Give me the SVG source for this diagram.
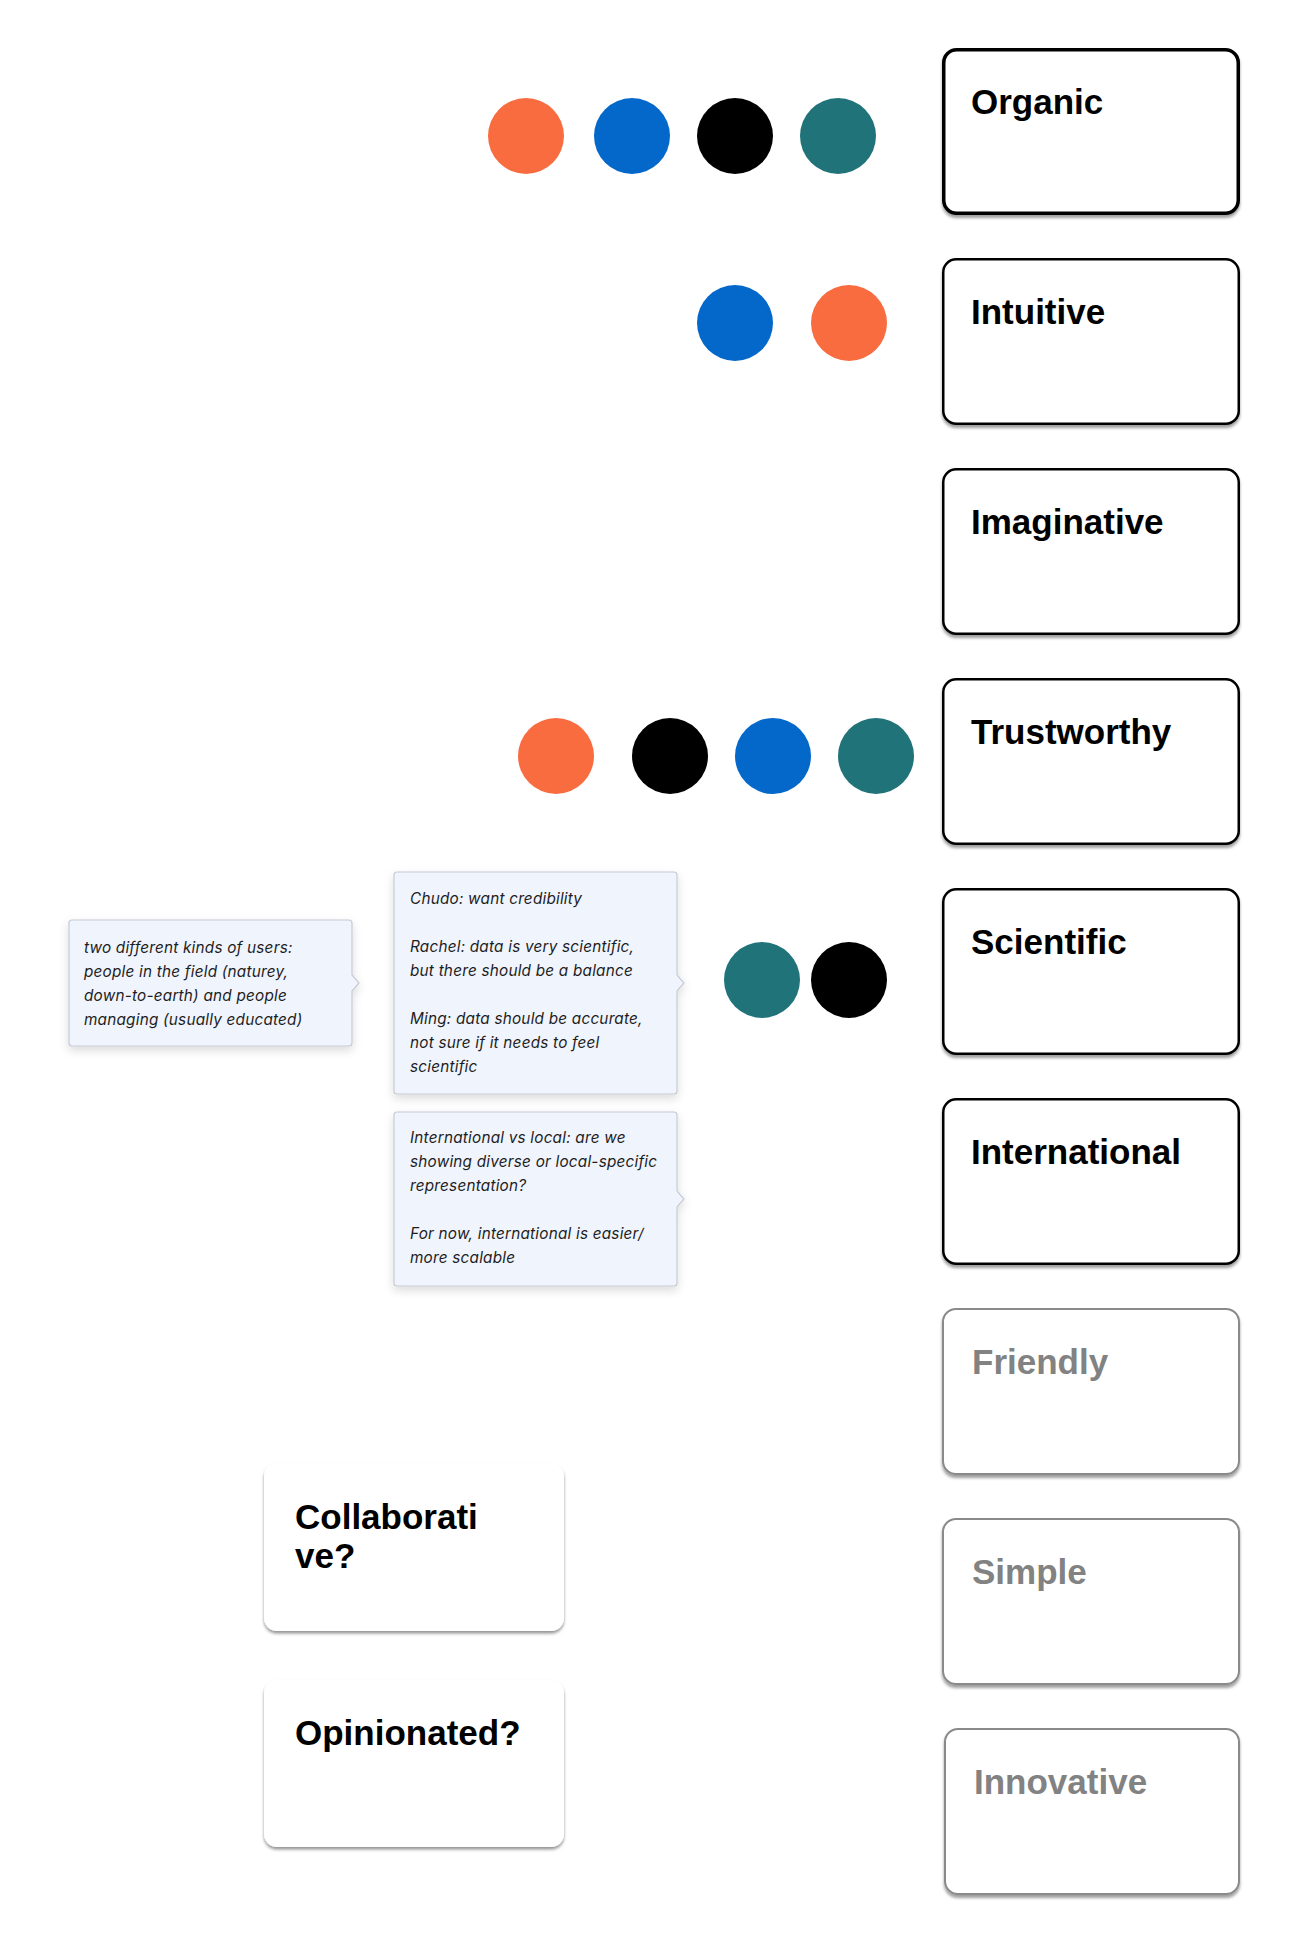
<svg xmlns="http://www.w3.org/2000/svg" width="1315" height="1947" viewBox="0 0 1315 1947">
<defs>
<filter id="cardShadow" x="-10%" y="-10%" width="120%" height="130%">
<feDropShadow dx="0" dy="3" stdDeviation="1.6" flood-color="#000" flood-opacity="0.38"/>
</filter>
<filter id="plainShadow" x="-10%" y="-10%" width="120%" height="130%">
<feDropShadow dx="0" dy="2.5" stdDeviation="1.8" flood-color="#000" flood-opacity="0.42"/>
</filter>
<filter id="noteShadow" x="-15%" y="-15%" width="130%" height="140%">
<feDropShadow dx="0" dy="4" stdDeviation="5" flood-color="#000" flood-opacity="0.14"/>
</filter>
<style>
.card{fill:#fff;filter:url(#cardShadow)}
.c-strong{stroke:#000;stroke-width:3.5}
.c-dark{stroke:#000;stroke-width:2.5}
.c-gray{stroke:#8a8a8a;stroke-width:2}
.plain{fill:#fff;filter:url(#plainShadow)}
.lbl{font-family:"Liberation Sans",Arial,Helvetica,sans-serif;font-weight:bold;font-size:35px;fill:#000}
.lbl-gray{fill:#828282}
.note{fill:#F0F4FD;stroke:#C6CAD4;stroke-width:1.2;filter:url(#noteShadow)}
.ntx{font-family:Inter,"Noto Sans",sans-serif;font-style:italic;font-size:15.3px;letter-spacing:0.22px;fill:#1e1e1e}
.orange{fill:#F96C40}
.blue{fill:#0368C9}
.black{fill:#000}
.teal{fill:#207378}
</style>
</defs>
<rect x="0" y="0" width="1315" height="1947" fill="#fff"/>

<g id="connectors"/>

<g id="node-organic">
<rect class="card c-strong" x="943.75" y="49.75" width="294.5" height="163.5" rx="13"/>
<text class="lbl" x="971" y="113.5">Organic</text>
</g>
<g id="node-intuitive">
<rect class="card c-dark" x="943.25" y="259.25" width="295.5" height="164.5" rx="13"/>
<text class="lbl" x="971" y="323.5">Intuitive</text>
</g>
<g id="node-imaginative">
<rect class="card c-dark" x="943.25" y="469.25" width="295.5" height="164.5" rx="13"/>
<text class="lbl" x="971" y="533.5">Imaginative</text>
</g>
<g id="node-trustworthy">
<rect class="card c-dark" x="943.25" y="679.25" width="295.5" height="164.5" rx="13"/>
<text class="lbl" x="971" y="743.5">Trustworthy</text>
</g>
<g id="node-scientific">
<rect class="card c-dark" x="943.25" y="889.25" width="295.5" height="164.5" rx="13"/>
<text class="lbl" x="971" y="953.5">Scientific</text>
</g>
<g id="node-international">
<rect class="card c-dark" x="943.25" y="1099.25" width="295.5" height="164.5" rx="13"/>
<text class="lbl" x="971" y="1163.5">International</text>
</g>
<g id="node-friendly">
<rect class="card c-gray" x="943" y="1309" width="296" height="165" rx="13"/>
<text class="lbl lbl-gray" x="972" y="1373.5">Friendly</text>
</g>
<g id="node-simple">
<rect class="card c-gray" x="943" y="1519" width="296" height="165" rx="13"/>
<text class="lbl lbl-gray" x="972" y="1583.5">Simple</text>
</g>
<g id="node-innovative">
<rect class="card c-gray" x="945" y="1729" width="294" height="165" rx="13"/>
<text class="lbl lbl-gray" x="974" y="1793.5">Innovative</text>
</g>

<g id="node-collaborative">
<rect class="plain" x="264" y="1463" width="300" height="168" rx="13"/>
<text class="lbl" x="295" y="1529">Collaborati</text>
<text class="lbl" x="295" y="1568">ve?</text>
</g>
<g id="node-opinionated">
<rect class="plain" x="264" y="1680" width="300" height="167" rx="13"/>
<text class="lbl" x="295" y="1745">Opinionated?</text>
</g>

<g id="note-users">
<path class="note" d="M72,920 H349 A3,3 0 0 1 352,923 V975 L359,983 L352,991 V1043 A3,3 0 0 1 349,1046 H72 A3,3 0 0 1 69,1043 V923 A3,3 0 0 1 72,920 Z"/>
<text class="ntx" x="84" y="953">two different kinds of users:</text>
<text class="ntx" x="84" y="977">people in the field (naturey,</text>
<text class="ntx" x="84" y="1001">down-to-earth) and people</text>
<text class="ntx" x="84" y="1025">managing (usually educated)</text>
</g>

<g id="note-credibility">
<path class="note" d="M397,872 H674 A3,3 0 0 1 677,875 V975 L684,983 L677,991 V1091 A3,3 0 0 1 674,1094 H397 A3,3 0 0 1 394,1091 V875 A3,3 0 0 1 397,872 Z"/>
<text class="ntx" x="410" y="904">Chudo: want credibility</text>
<text class="ntx" x="410" y="952">Rachel: data is very scientific,</text>
<text class="ntx" x="410" y="976">but there should be a balance</text>
<text class="ntx" x="410" y="1024">Ming: data should be accurate,</text>
<text class="ntx" x="410" y="1048">not sure if it needs to feel</text>
<text class="ntx" x="410" y="1072">scientific</text>
</g>

<g id="note-international">
<path class="note" d="M397,1112 H674 A3,3 0 0 1 677,1115 V1191 L684,1199 L677,1207 V1283 A3,3 0 0 1 674,1286 H397 A3,3 0 0 1 394,1283 V1115 A3,3 0 0 1 397,1112 Z"/>
<text class="ntx" x="410" y="1143">International vs local: are we</text>
<text class="ntx" x="410" y="1167">showing diverse or local-specific</text>
<text class="ntx" x="410" y="1191">representation?</text>
<text class="ntx" x="410" y="1239">For now, international is easier/</text>
<text class="ntx" x="410" y="1263">more scalable</text>
</g>

<g id="dots-organic">
<circle class="orange" cx="526" cy="136" r="38"/>
<circle class="blue" cx="632" cy="136" r="38"/>
<circle class="black" cx="735" cy="136" r="38"/>
<circle class="teal" cx="838" cy="136" r="38"/>
</g>
<g id="dots-intuitive">
<circle class="blue" cx="735" cy="323" r="38"/>
<circle class="orange" cx="849" cy="323" r="38"/>
</g>
<g id="dots-trustworthy">
<circle class="orange" cx="556" cy="756" r="38"/>
<circle class="black" cx="670" cy="756" r="38"/>
<circle class="blue" cx="773" cy="756" r="38"/>
<circle class="teal" cx="876" cy="756" r="38"/>
</g>
<g id="dots-scientific">
<circle class="teal" cx="762" cy="980" r="38"/>
<circle class="black" cx="849" cy="980" r="38"/>
</g>
</svg>
